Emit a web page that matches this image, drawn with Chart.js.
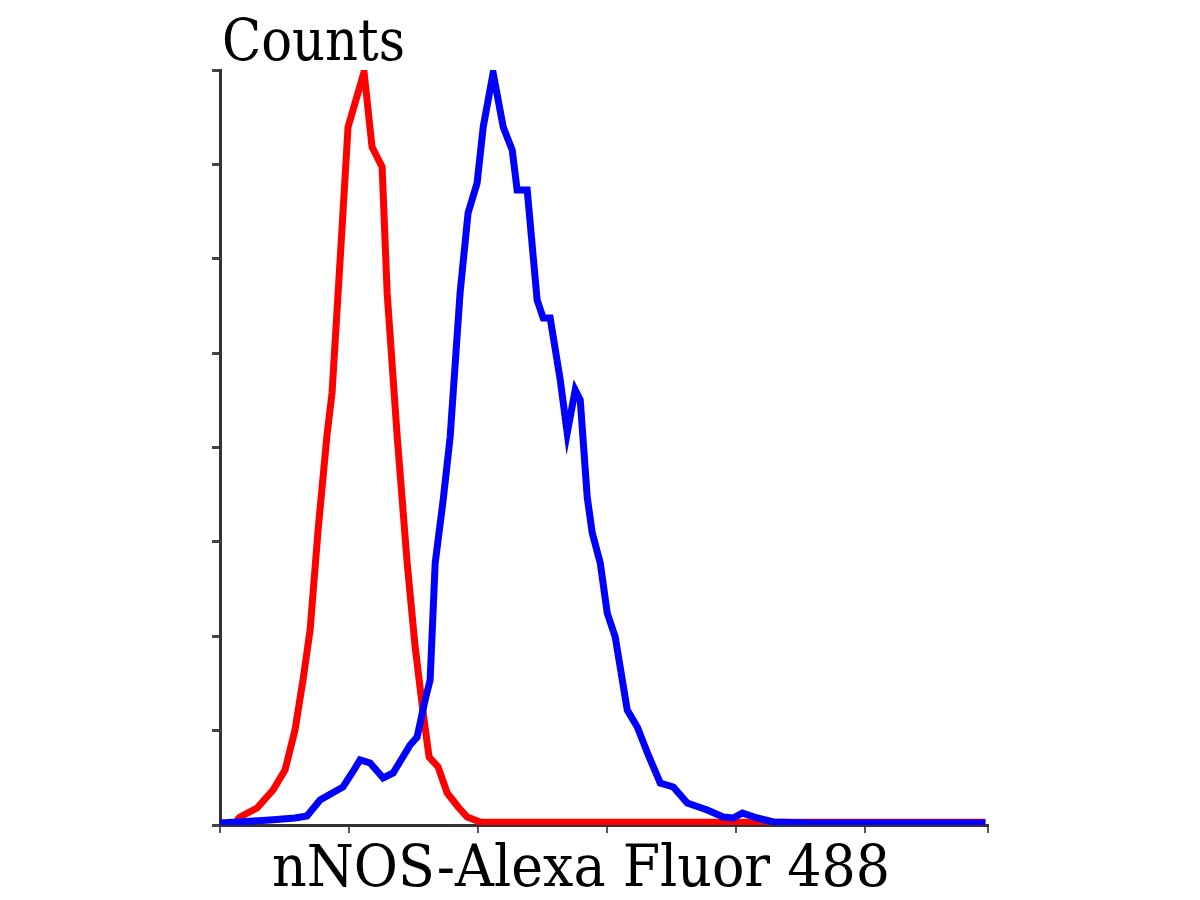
<!DOCTYPE html>
<html>
<head>
<meta charset="utf-8">
<script src="https://cdn.jsdelivr.net/npm/chart.js@4.4.1/dist/chart.umd.min.js"></script>
<style>
  html, body { margin: 0; padding: 0; background: #ffffff; }
  #wrap { width: 1200px; height: 900px; position: relative; }
</style>
</head>
<body>
<div id="wrap"><canvas id="c" width="1200" height="900"></canvas></div>
<script>
// Axis labels
const yTitle = "Counts";
const xTitle = "nNOS-Alexa Fluor 488";

// Isotype control (red) histogram: fluorescence (decades) and counts
const redX = [0.13, 0.155, 0.287, 0.411, 0.504, 0.581, 0.643, 0.698, 0.760, 0.829, 0.868, 0.946, 0.992, 1.116, 1.178, 1.256, 1.295, 1.372, 1.450, 1.512, 1.574, 1.620, 1.690, 1.760, 1.845, 1.915, 2.016, 3.876, 5.93];
const redY = [0.05, 0.085, 0.18, 0.371, 0.583, 1.007, 1.536, 2.066, 3.126, 4.132, 4.577, 6.336, 7.396, 7.979, 7.184, 6.972, 5.637, 4.132, 2.776, 1.886, 1.187, 0.72, 0.615, 0.339, 0.191, 0.085, 0.032, 0.03, 0.03];

// nNOS stained sample (blue) histogram
const blueX = [0, 0.388, 0.581, 0.674, 0.775, 0.953, 1.023, 1.085, 1.163, 1.264, 1.341, 1.473, 1.527, 1.589, 1.628, 1.667, 1.729, 1.783, 1.860, 1.922, 1.992, 2.039, 2.116, 2.194, 2.264, 2.302, 2.380, 2.457, 2.504, 2.558, 2.636, 2.690, 2.752, 2.791, 2.845, 2.884, 2.946, 3.0, 3.062, 3.155, 3.233, 3.318, 3.411, 3.512, 3.620, 3.775, 3.899, 3.977, 4.047, 4.163, 4.287, 4.574, 5.93];
const blueY = [0.02, 0.053, 0.074, 0.095, 0.265, 0.403, 0.551, 0.689, 0.657, 0.498, 0.551, 0.848, 0.932, 1.325, 1.536, 2.776, 3.444, 4.111, 5.637, 6.485, 6.803, 7.396, 7.968, 7.396, 7.152, 6.728, 6.728, 5.563, 5.372, 5.372, 4.715, 4.154, 4.609, 4.503, 3.475, 3.094, 2.776, 2.246, 1.992, 1.219, 1.038, 0.742, 0.445, 0.403, 0.233, 0.159, 0.085, 0.074, 0.127, 0.074, 0.032, 0.021, 0.021];

const xMin = 0, xMax = 5.95, xStep = 1;
const yMin = 0, yMax = 8, yStep = 1;

function pts(xs, ys) { return xs.map((x, i) => ({ x: x, y: ys[i] })); }

// draw a text fitted into a box (left, right, baseline) as one string
function fitText(ctx, text, left, right, baseline) {
  ctx.save();
  ctx.font = '58px "DejaVu Serif", "Liberation Serif", serif';
  const w = ctx.measureText(text).width;
  const sx = (right - left) / w;
  ctx.translate(left, baseline);
  ctx.scale(sx, 1);
  ctx.textAlign = 'left';
  ctx.textBaseline = 'alphabetic';
  ctx.fillStyle = '#000000';
  ctx.fillText(text, 0, 0);
  ctx.restore();
}

const labelPlugin = {
  id: 'labels',
  afterDraw(chart) {
    const ctx = chart.ctx;
    fitText(ctx, yTitle, 222, 405, 60);
    fitText(ctx, xTitle, 272, 890, 886);
  }
};

new Chart(document.getElementById('c'), {
  type: 'line',
  data: {
    datasets: [
      { label: 'nNOS', data: pts(blueX, blueY), borderColor: '#0000ff', borderWidth: 7, pointRadius: 0, tension: 0, fill: false, order: 0, borderJoinStyle: 'miter' },
      { label: 'Isotype', data: pts(redX, redY), borderColor: '#ff0000', borderWidth: 7, pointRadius: 0, tension: 0, fill: false, order: 1, borderJoinStyle: 'miter' }
    ]
  },
  options: {
    responsive: false,
    animation: false,
    events: [],
    layout: { padding: { left: 212, right: 212, top: 70, bottom: 67 } },
    plugins: { legend: { display: false }, tooltip: { enabled: false }, title: { display: false } },
    scales: {
      x: {
        type: 'linear', min: xMin, max: xMax,
        ticks: { display: false, stepSize: xStep },
        grid: { display: true, drawOnChartArea: false, drawTicks: true, tickLength: 8, color: '#555555', lineWidth: 2 },
        border: { display: true, color: '#333333', width: 3 },
        afterFit(s) { s.height = 8; }
      },
      y: {
        type: 'linear', min: yMin, max: yMax,
        ticks: { display: false, stepSize: yStep },
        grid: { display: true, drawOnChartArea: false, drawTicks: true, tickLength: 8, color: '#444444', lineWidth: 3 },
        border: { display: true, color: '#333333', width: 3 },
        afterFit(s) { s.width = 8; }
      }
    }
  },
  plugins: [labelPlugin]
});
</script>
</body>
</html>
